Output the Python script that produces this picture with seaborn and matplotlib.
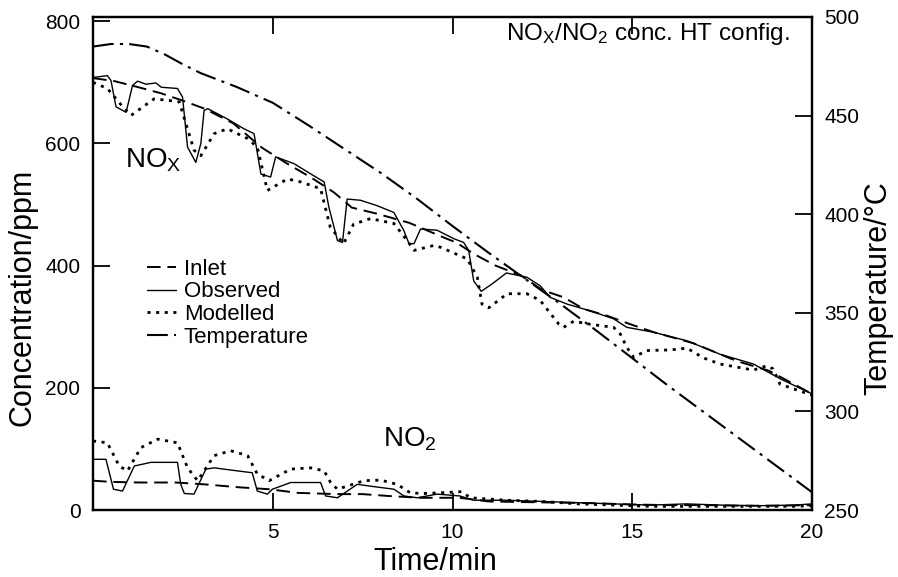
import matplotlib
matplotlib.use("Agg")
import matplotlib.pyplot as plt
import seaborn as sns

# ---- NOx concentrations (ppm) ----
nox_inlet_t = [0, 0.6, 1.2, 1.9, 2.5, 3.1, 3.9, 4.7, 5.4, 6.1, 6.7, 7.2, 7.9, 8.8,
               9.8, 10.1, 10.6, 11.2, 11.9, 12.5, 13.1, 13.65, 14.3, 14.9, 15.6,
               16.7, 17.9, 18.8, 20]
nox_inlet = [707, 702, 693, 682, 670, 657, 633, 593, 567, 543, 520, 495, 485, 470,
             445, 438, 419, 400, 384, 360, 348, 329, 318, 305, 291,
             273, 244, 228, 190]

nox_obs_t = [0, 0.4, 0.5, 0.64, 0.92, 1.1, 1.24, 1.47, 1.75, 1.9, 2.35, 2.49, 2.63,
             2.86, 3.0, 3.09, 3.19, 3.74, 4.2, 4.48, 4.67, 4.94, 5.08, 5.59, 6.06,
             6.43, 6.56, 6.8, 6.94, 7.07, 7.44, 7.91, 8.37, 8.65, 8.79, 8.93, 9.11,
             9.57, 10.04, 10.31, 10.45, 10.59, 10.8, 11.1, 11.5, 12.07, 12.44,
             12.72, 13.19, 13.83, 14.48, 14.85, 15.59, 16.52, 17.44, 18.37, 19.11, 20]
nox_obs = [708, 711, 703, 660, 651, 695, 702, 697, 699, 692, 690, 676, 594,
           569, 600, 654, 657, 640, 624, 616, 550, 545, 578, 567, 550,
           537, 496, 441, 438, 509, 507, 498, 487, 457, 436, 436, 460,
           458, 444, 438, 425, 375, 358, 370, 388, 381, 367,
           348, 337, 326, 313, 299, 291, 277, 255, 239, 215, 190]

nox_mod_t = [0, 0.4, 0.8, 1.06, 1.7, 2.17, 2.4, 2.81, 3.0, 3.37, 3.74, 4.3, 4.57,
             4.85, 5.41, 5.78, 6.33, 6.6, 6.97, 7.25, 7.72, 8.37, 8.74, 8.93, 9.48,
             9.67, 10.41, 10.69, 10.82, 11.01, 11.52, 12.07, 12.44, 12.96, 13.09,
             13.37, 13.83, 14.48, 14.67, 14.85, 15.04, 15.4, 16.06, 16.52, 16.98,
             17.44, 18.37, 18.74, 18.92, 19.11, 20]
nox_mod = [700, 690, 662, 646, 673, 670, 668, 589, 580, 616, 624, 608, 594,
           523, 542, 537, 526, 463, 436, 468, 477, 469, 441, 425, 433,
           430, 411, 381, 337, 331, 354, 354, 343, 304, 299,
           309, 304, 299, 288, 266, 250, 261, 262, 265, 249,
           239, 229, 236, 231, 206, 188]

# ---- NO2 concentrations (ppm) ----
no2_inlet_t = [0, 0.5, 1.3, 2.3, 3.1, 4.1, 4.9, 5.7, 6.8, 7.5, 8.2, 9.1, 10.2,
               11, 12, 13, 14, 15, 16, 17, 18, 19, 20]
no2_inlet = [48, 46, 45, 45, 42, 37, 34, 28, 26, 26, 23, 20, 20,
             14, 13, 12, 11, 9, 8, 8, 7, 7, 8]

no2_obs_t = [0, 0.36, 0.57, 0.82, 1.15, 1.61, 2.35, 2.44, 2.54, 2.81, 3.14, 3.37,
             4.02, 4.43, 4.57, 4.85, 4.99, 5.5, 6.33, 6.47, 6.8, 7.35, 7.72, 8.37,
             8.65, 9.02, 9.57, 10.2, 10.6, 11.5, 12.5, 13.5, 14.5, 15.5, 16.5,
             17.5, 18.5, 19.5, 20]
no2_obs = [83, 83, 34, 31, 72, 78, 78, 42, 27, 26, 67, 69,
           64, 61, 31, 26, 34, 45, 45, 23, 20, 42, 39, 34,
           23, 20, 26, 23, 16, 16, 14, 12, 10, 8, 10,
           8, 7, 8, 10]

no2_mod_t = [0, 0.4, 0.73, 0.96, 1.33, 1.8, 2.35, 2.63, 2.91, 3.37, 3.83, 4.3, 4.57,
             4.9, 5.5, 6.06, 6.43, 6.61, 6.8, 7.54, 8.0, 8.46, 8.83, 9.2, 9.94,
             10.25, 10.5, 11.5, 12.5, 13.5, 14.5, 15.5, 16.5, 17.5, 18.5, 19.5, 20]
no2_mod = [113, 110, 72, 64, 102, 116, 110, 69, 48, 89, 97, 89, 59,
           48, 67, 69, 64, 45, 34, 48, 49, 42, 28, 27, 29,
           30, 20, 16, 14, 10, 8, 6, 6, 6, 6, 6, 7]

# ---- Catalyst temperature (deg C) ----
temp_t = [0, 0.5, 1, 1.5, 2, 2.5, 3, 4, 5, 6, 7, 8, 9, 10, 11, 12, 13, 14, 15,
          16, 17, 18, 19, 20]
temp = [485, 486.3, 486.3, 485, 481, 476, 471.5, 464.5, 456.5, 445, 433, 421,
        408, 394, 380.5, 367.5, 354.5, 341, 327, 313, 299.5, 286, 272.5, 259]

x_ticks = [5, 10, 15, 20]
conc_ticks = [0, 200, 400, 600, 800]
temp_ticks = [250, 300, 350, 400, 450, 500]

sns.set_style("ticks")
plt.rcParams["font.family"] = ["Liberation Sans", "DejaVu Sans"]
plt.rcParams["mathtext.default"] = "regular"
for key in ("text.color", "axes.labelcolor", "xtick.color", "ytick.color",
            "axes.edgecolor"):
    plt.rcParams[key] = "black"

fig = plt.figure(figsize=(8.98, 5.77), dpi=100)
ax = fig.add_axes([93 / 898, 1 - 510 / 577, (812 - 93) / 898, (510 - 17) / 577])
ax2 = ax.twinx()

styles = {
    "inlet": dict(color="black", lw=1.4, dashes=(7, 3.5)),
    "obs": dict(color="black", lw=1.0),
    "mod": dict(color="black", lw=2.0, dashes=(1.1, 2.0)),
    "temp": dict(color="black", lw=1.5, dashes=(10, 3, 1.5, 3)),
}

def draw(axis, t, v, key):
    st = styles[key]
    sns.lineplot(x=t, y=v, ax=axis, color=st["color"], linewidth=st["lw"],
                 legend=False, sort=False)
    line = axis.get_lines()[-1]
    if "dashes" in st:
        line.set_dashes(st["dashes"])
    return line

h_inlet = draw(ax, nox_inlet_t, nox_inlet, "inlet")
h_obs = draw(ax, nox_obs_t, nox_obs, "obs")
h_mod = draw(ax, nox_mod_t, nox_mod, "mod")
draw(ax, no2_inlet_t, no2_inlet, "inlet")
draw(ax, no2_obs_t, no2_obs, "obs")
draw(ax, no2_mod_t, no2_mod, "mod")
h_temp = draw(ax2, temp_t, temp, "temp")

ax.set_xlim(0, 20)
ax.set_ylim(0, 807)
ax2.set_ylim(250, 500)

ax.set_xticks(x_ticks)
ax.set_yticks(conc_ticks)
ax2.set_yticks(temp_ticks)

ax.tick_params(axis="x", direction="in", length=12, width=1.3, top=True,
               labelsize=15, pad=9)
ax.tick_params(axis="y", direction="in", length=12, width=1.3, right=False,
               labelsize=15, pad=9)
ax2.tick_params(axis="y", direction="in", length=12, width=1.3,
                labelsize=15, pad=9)
for a in (ax, ax2):
    for sp in a.spines.values():
        sp.set_visible(True)
        sp.set_linewidth(1.6)
        sp.set_color("black")

ax.set_xlabel("Time/min", fontsize=22)
ax.set_ylabel("Concentration/ppm", fontsize=22)
ax2.set_ylabel("Temperature/\u00b0C", fontsize=22)
ax.xaxis.set_label_coords(0.476, -0.076)
ax.yaxis.set_label_coords(-0.077, 0.432)
ax2.yaxis.set_label_coords(1.072, 0.45)

ax.text(0.969, 0.953, "NO$_X$/NO$_2$ conc. HT config.", transform=ax.transAxes,
        ha="right", va="baseline", fontsize=17.5)
ax.text(0.0445, 0.694, "NO$_X$", transform=ax.transAxes, ha="left",
        va="baseline", fontsize=20)
ax.text(0.403, 0.128, "NO$_2$", transform=ax.transAxes, ha="left",
        va="baseline", fontsize=20)

ax.legend([h_inlet, h_obs, h_mod, h_temp],
          ["Inlet", "Observed", "Modelled", "Temperature"],
          loc="upper left", bbox_to_anchor=(0.075, 0.510), frameon=False,
          fontsize=16, handlelength=1.3, handletextpad=0.36, labelspacing=0.08,
          borderpad=0, borderaxespad=0)

fig.savefig("out.png", dpi=100)
